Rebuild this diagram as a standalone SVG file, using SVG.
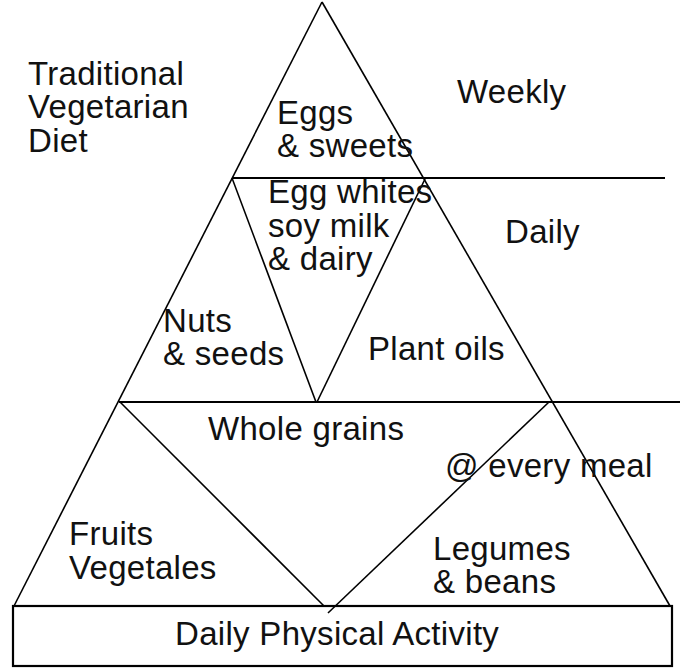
<svg xmlns="http://www.w3.org/2000/svg" width="680" height="671" viewBox="0 0 680 671">
<style>
.t{font-family:"Liberation Sans",Arial,sans-serif;font-size:33px;letter-spacing:0.3px;fill:#111}
.s{stroke:#000;stroke-width:1.6;fill:none}
.h{stroke:#000;stroke-width:2.2;fill:none}
</style>
<rect width="680" height="671" fill="#fff"/>
<g id="connectors">
<line class="s" x1="322" y1="2" x2="14" y2="606"/>
<line class="s" x1="322" y1="2" x2="670" y2="606"/>
<line class="h" x1="232" y1="178" x2="665" y2="178"/>
<line class="h" x1="119" y1="402" x2="680" y2="402"/>
<line class="s" x1="232" y1="178" x2="316" y2="402"/>
<line class="s" x1="425" y1="179" x2="317" y2="402"/>
<line class="s" x1="120" y1="402" x2="324" y2="606"/>
<line class="s" x1="549" y1="402" x2="328" y2="613"/>
</g>
<g id="title"><text class="t" x="28" y="85">Traditional</text><text class="t" x="28" y="118">Vegetarian</text><text class="t" x="28" y="152">Diet</text></g>
<g id="eggs"><text class="t" x="277" y="124">Eggs</text><text class="t" x="277" y="157">&amp; sweets</text></g>
<g id="weekly"><text class="t" x="457" y="103">Weekly</text></g>
<g id="eggwhites"><text class="t" x="268" y="203">Egg whites</text><text class="t" x="268" y="237">soy milk</text><text class="t" x="268" y="270">&amp; dairy</text></g>
<g id="daily"><text class="t" x="505" y="243">Daily</text></g>
<g id="nuts"><text class="t" x="163" y="332">Nuts</text><text class="t" x="163" y="365">&amp; seeds</text></g>
<g id="plantoils"><text class="t" x="368" y="360">Plant oils</text></g>
<g id="wholegrains"><text class="t" x="208" y="440">Whole grains</text></g>
<g id="everymeal"><text class="t" x="445" y="477">@ every meal</text></g>
<g id="fruits"><text class="t" x="69" y="545">Fruits</text><text class="t" x="69" y="579">Vegetales</text></g>
<g id="legumes"><text class="t" x="433" y="560">Legumes</text><text class="t" x="433" y="593">&amp; beans</text></g>
<g id="activity"><rect class="h" x="13" y="606" width="659" height="60"/><text class="t" x="175" y="645">Daily Physical Activity</text></g>
</svg>
